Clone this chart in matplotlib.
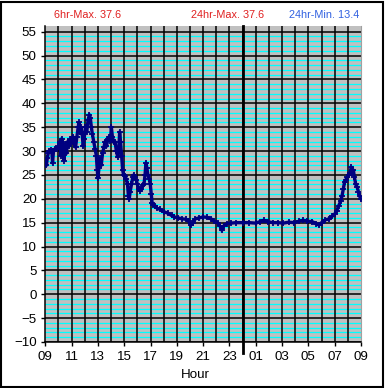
#!/usr/bin/env python3

import matplotlib
matplotlib.use("Agg")
import matplotlib.pyplot as plt
from matplotlib.patches import Rectangle
import numpy as np

# hours since 09:00, temperature readings
hours = [
    0.00, 0.08, 0.15, 0.22, 0.30, 0.40, 0.50, 0.55, 0.62, 0.75,
    0.90, 1.00, 1.10, 1.18, 1.25, 1.35, 1.42, 1.50, 1.60, 1.70,
    1.80, 1.90, 2.00, 2.10, 2.20, 2.30, 2.40, 2.50, 2.55, 2.62,
    2.70, 2.80, 2.88, 2.95, 3.05, 3.15, 3.25, 3.35, 3.42, 3.50,
    3.58, 3.68, 3.78, 3.88, 3.95, 4.00, 4.08, 4.15, 4.25, 4.35,
    4.45, 4.55, 4.65, 4.75, 4.85, 4.95, 5.02, 5.10, 5.20, 5.30,
    5.40, 5.50, 5.58, 5.65, 5.72, 5.80, 5.88, 5.95, 6.05, 6.15,
    6.25, 6.32, 6.38, 6.45, 6.55, 6.65, 6.72, 6.82, 6.92, 7.00,
    7.10, 7.20, 7.30, 7.40, 7.50, 7.58, 7.65, 7.72, 7.80, 7.90,
    7.98, 8.05, 8.12, 8.20, 8.35, 8.50, 8.70, 9.00, 9.30, 9.60,
    9.80, 10.10, 10.40, 10.70, 10.90, 11.05, 11.20, 11.40, 11.70, 12.00,
    12.30, 12.60, 12.85, 13.10, 13.30, 13.42, 13.55, 13.80, 14.10, 14.50,
    15.00, 15.50, 16.00, 16.30, 16.60, 16.90, 17.30, 17.70, 18.10, 18.50,
    18.90, 19.30, 19.60, 19.90, 20.30, 20.60, 20.80, 21.00, 21.30, 21.60,
    21.80, 22.00, 22.15, 22.30, 22.45, 22.55, 22.65, 22.75, 22.85, 22.95,
    23.05, 23.15, 23.27, 23.35, 23.42, 23.50, 23.60, 23.70, 23.80, 23.90,
    24.00,
]
temps = [
    28.0, 27.0, 28.5, 29.5, 30.0, 30.2, 29.8, 27.5, 30.0, 30.5,
    30.5, 31.0, 32.0, 29.0, 32.6, 30.5, 28.0, 31.5, 29.5, 32.0,
    31.0, 32.5, 32.2, 33.0, 31.5, 30.8, 33.0, 35.0, 36.0, 34.0,
    35.0, 33.5, 31.0, 32.5, 35.0, 34.0, 36.5, 37.6, 37.0, 35.0,
    33.5, 32.0, 30.5, 29.0, 26.0, 24.3, 26.5, 28.5, 27.0, 29.5,
    30.8, 32.0, 31.0, 32.5, 33.0, 32.2, 35.0, 33.0, 31.8, 32.0,
    30.0, 28.8, 30.0, 34.0, 32.0, 29.0, 26.0, 25.0, 24.8, 24.2,
    23.0, 20.5, 20.0, 21.5, 23.0, 24.5, 25.0, 24.5, 24.0, 23.0,
    22.0, 21.7, 22.0, 22.8, 23.0, 25.0, 27.5, 26.5, 25.0, 24.2,
    23.0, 21.0, 19.2, 18.8, 18.5, 18.0, 17.8, 17.3, 17.0, 16.5,
    16.2, 16.0, 15.8, 15.7, 15.3, 14.5, 15.0, 15.8, 16.0, 16.2,
    16.1, 15.8, 15.3, 15.0, 14.2, 13.4, 14.3, 14.8, 14.9, 15.0,
    15.0, 15.0, 14.9, 15.2, 15.5, 15.2, 15.0, 15.0, 14.9, 15.1,
    15.0, 15.3, 15.5, 15.3, 15.2, 14.8, 14.5, 15.0, 15.6, 15.8,
    16.3, 16.8, 17.5, 18.5, 19.5, 20.5, 22.0, 23.5, 24.0, 24.5,
    25.0, 25.5, 26.6, 25.5, 26.0, 24.5, 23.0, 22.5, 21.5, 20.5,
    20.0,
]

hour_labels = ["09", "11", "13", "15", "17", "19", "21", "23",
               "01", "03", "05", "07", "09"]
titles = ["6hr-Max. 37.6", "24hr-Max. 37.6", "24hr-Min. 13.4"]
title_colors = ["#e02020", "#e02020", "#3060e0"]

plt.rcParams["font.family"] = ["Liberation Sans", "DejaVu Sans"]

fig = plt.figure(figsize=(3.85, 3.88), dpi=100)
ax = fig.add_axes([0.1177, 0.1186, 0.82, 0.8144])

ax.set_facecolor("#c0c0c0")
ax.set_xlim(0, 24)
ax.set_ylim(-10, 56.2)

# minor cyan lines every degree, black lines every 5
for v in range(-9, 56):
    if v % 5 != 0:
        ax.axhline(v, color="#00ffff", lw=0.9, zorder=1)
for v in range(-10, 56, 5):
    ax.axhline(v, color="black", lw=1.1, zorder=2)
for h in range(1, 24):
    ax.axvline(h, color="black", lw=1.1, zorder=2)

# midnight marker, sticks out below the axis
ax.plot([15, 15], [-12.3, 56.2], color="black", lw=2, zorder=3,
        clip_on=False)

ax.plot(hours, temps, color="#000080", lw=2.4, marker="+", ms=5,
        mew=1.3, zorder=4)

ax.set_yticks(range(-10, 56, 5))
ax.set_xticks(range(0, 25, 2))
ax.set_xticklabels(hour_labels)
ax.tick_params(direction="out", length=3, width=1, labelsize=9.6, pad=3.2)
ax.set_xlabel("Hour", fontsize=9.6)
ax.xaxis.set_label_coords(0.474, -0.085)

ax.spines["top"].set_visible(False)
ax.spines["right"].set_color("#a0a0a0")
ax.spines["left"].set_linewidth(1.1)
ax.spines["bottom"].set_linewidth(1.1)

for x, t, c in zip([88, 228, 324], titles, title_colors):
    fig.text(x / 385, 1 - 15 / 388, t, color=c, fontsize=7.8,
             ha="center", va="center")

fig.patches.append(Rectangle((0.002, 0.002), 0.993, 0.994,
                             transform=fig.transFigure, fill=False,
                             edgecolor="black", lw=1.5))

fig.savefig("out.png", dpi=100)
